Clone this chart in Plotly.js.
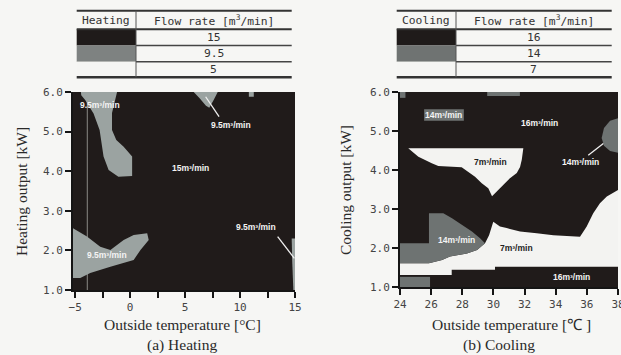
<!DOCTYPE html>
<html><head><meta charset="utf-8">
<script src="https://cdn.plot.ly/plotly-3.0.1.min.js"></script>
<style>html,body{margin:0;padding:0;background:#f6f6f4;}#chart{width:621px;height:355px;}</style>
</head><body><div id="chart"></div>
<script>
// ---------- DATA ----------
const heatFlow = ['15', '9.5', '5'];
const coolFlow = ['16', '14', '7'];
// Heating map: regions of 9.5 m3/min (rest is 15 m3/min)
const hA_x = [-4.48,-1.19,-1.65,-1.65,-1.26,-0.59,0.18,0.18,-1.07,-1.96,-2.42,-2.56,-2.78,-3.33,-4.09,-4.45];
const hA_y = [6.0,6.0,5.47,5.04,4.79,4.62,4.37,3.88,3.86,4.03,4.37,4.62,5.04,5.46,5.80,5.92];
const hB_x = [5.78,7.97,7.6,7.2,6.9,6.3];
const hB_y = [6.0,6.0,5.8,5.6,5.65,5.85];
const hC_x = [10.8,11.25,11.25,10.8];
const hC_y = [6.0,6.0,5.88,5.88];
const hD_x = [-5.2,-3.93,-2.72,-1.80,-0.59,0.32,1.55,1.69,0.94,0.32,-1.80,-3.63,-4.54,-5.2];
const hD_y = [2.56,2.35,2.09,2.01,2.26,2.39,2.43,2.26,2.01,1.76,1.59,1.43,1.30,1.30];
const hE_x = [14.7,15.0,15.0,14.85,14.75];
const hE_y = [2.3,2.3,1.0,1.0,1.7];
const hLab_x = [-2.72, 9.16, 5.5, 11.44, -2.1];
const hLab_y = [5.67, 5.17, 4.07, 2.60, 1.88];
const hLab_t = ['9.5m³/min','9.5m³/min','15m³/min','9.5m³/min','9.5m³/min'];
const hLead1_x = [6.87, 8.09], hLead1_y = [5.88, 5.38];
const hLead2_x = [13.42, 14.94], hLead2_y = [2.35, 1.80];
const hStreak_x = [-3.9, -3.9], hStreak_y = [1.0, 6.0];
// Cooling map: 7 m3/min (white) and 14 m3/min (gray) regions (rest is 16 m3/min)
const cW1_x = [24.53,25.18,26.04,26.46,27.96,28.39,28.82,29.25,29.67,29.91,30.17,30.62,31.06,31.50,31.71,31.82,31.92,31.92];
const cW1_y = [4.56,4.34,4.17,4.10,4.07,3.96,3.83,3.66,3.53,3.33,3.44,3.62,3.79,3.92,4.08,4.26,4.47,4.56];
const cW2_x = [24.0,25.86,26.70,27.21,28.30,28.95,29.46,29.72,29.99,30.42,30.85,31.71,32.78,33.85,35.56,35.99,36.41,36.84,37.28,38.0,38.0,30.10,30.10,27.32,27.32,24.0];
const cW2_y = [1.61,1.61,1.69,1.78,1.86,1.95,2.12,2.33,2.67,2.55,2.51,2.42,2.38,2.33,2.29,2.55,2.89,3.15,3.32,3.49,1.52,1.52,1.44,1.44,1.31,1.31];
const cG1_x = [24.0,25.86,25.86,26.78,27.34,27.98,28.62,29.14,29.46,28.95,28.30,27.21,26.70,25.86,24.0];
const cG1_y = [2.12,2.12,2.89,2.89,2.76,2.59,2.42,2.25,2.12,1.95,1.86,1.78,1.69,1.61,1.61];
const cG2_x = [24.0,25.93,25.93,24.0];
const cG2_y = [1.26,1.26,1.0,1.0];
const cG3_x = [24.0,24.35,24.35,24.0];
const cG3_y = [6.0,6.0,5.85,5.85];
const cG4_x = [25.55,28.1,28.1,25.55];
const cG4_y = [5.56,5.56,5.26,5.26];
const cG5_x = [29.6,31.7,31.7,29.6];
const cG5_y = [6.0,6.0,5.9,5.9];
const cG6_x = [38.0,37.49,37.10,36.95,37.10,37.49,38.0];
const cG6_y = [5.33,5.26,5.08,4.82,4.62,4.49,4.44];
const cLab_x = [26.78, 32.99, 29.78, 35.56, 27.64, 31.5, 35.03];
const cLab_y = [5.41, 5.21, 4.21, 4.21, 2.21, 1.99, 1.26];
const cLab_t = ['14m³/min','16m³/min','7m³/min','14m³/min','14m³/min','7m³/min','16m³/min'];
const cLab_dark = [false,false,true,false,false,true,false];
const cLead_x = [37.06, 36.09], cLead_y = [4.68, 4.38];
const heatXTicks = [-5, 0, 5, 10, 15];
const coolXTicks = [24, 26, 28, 30, 32, 34, 36, 38];
const yTicks = [1, 2, 3, 4, 5, 6];

// ---------- STYLE ----------
const W = 621, H = 355;
const P = px => px / W, Q = py => 1 - py / H;
const DARK = '#201b1a', HGRAY = '#9ba3a1', CGRAY = '#6e7372', WHITE = '#f3f3f1';
const heatSwatch = ['#1f1b1a', '#7e8281', '#f5f5f3'];
const coolSwatch = ['#1f1b1a', '#6f7372', '#f5f5f3'];

function poly(x, y, color, xa, ya) {
  return {type:'scatter', mode:'lines', x:x, y:y, fill:'toself', fillcolor:color,
    line:{width:0, color:color}, hoverinfo:'skip', showlegend:false, xaxis:xa, yaxis:ya};
}
function seg(x, y, color, w, xa, ya) {
  return {type:'scatter', mode:'lines', x:x, y:y, line:{width:w, color:color},
    hoverinfo:'skip', showlegend:false, xaxis:xa, yaxis:ya};
}

const traces = [
  seg(hStreak_x, hStreak_y, '#8a8a86', 1, 'x', 'y'),
  poly(hA_x, hA_y, HGRAY, 'x', 'y'),
  poly(hB_x, hB_y, HGRAY, 'x', 'y'),
  poly(hC_x, hC_y, HGRAY, 'x', 'y'),
  poly(hD_x, hD_y, HGRAY, 'x', 'y'),
  poly(hE_x, hE_y, HGRAY, 'x', 'y'),
  seg(hLead1_x, hLead1_y, '#f0f0f0', 1.3, 'x', 'y'),
  seg(hLead2_x, hLead2_y, '#f0f0f0', 1.3, 'x', 'y'),
  poly(cW2_x, cW2_y, WHITE, 'x2', 'y2'),
  poly(cW1_x, cW1_y, WHITE, 'x2', 'y2'),
  poly(cG1_x, cG1_y, CGRAY, 'x2', 'y2'),
  poly(cG2_x, cG2_y, CGRAY, 'x2', 'y2'),
  poly(cG3_x, cG3_y, CGRAY, 'x2', 'y2'),
  poly(cG4_x, cG4_y, CGRAY, 'x2', 'y2'),
  poly(cG5_x, cG5_y, CGRAY, 'x2', 'y2'),
  poly(cG6_x, cG6_y, CGRAY, 'x2', 'y2'),
  seg(cLead_x, cLead_y, '#f0f0f0', 1.3, 'x2', 'y2')
];

const annotations = [];
const shapes = [];
const C = {xanchor:'center', yanchor:'middle', showarrow:false};
const labFont = {family:'Liberation Sans, Arial, sans-serif', size:8.5, color:'#f4f4f4', weight:'bold'};
hLab_t.forEach((t, i) => annotations.push(Object.assign({xref:'x', yref:'y', x:hLab_x[i], y:hLab_y[i], text:'<b>'+t+'</b>',
  font:labFont}, C)));
cLab_t.forEach((t, i) => annotations.push(Object.assign({xref:'x2', yref:'y2', x:cLab_x[i], y:cLab_y[i], text:'<b>'+t+'</b>',
  font:Object.assign({}, labFont, {color: cLab_dark[i] ? '#222' : '#f4f4f4'})}, C)));

// Tables
const serif = {family:'Liberation Serif, Times New Roman, serif', size:15.5, color:'#2a2a2a'};
const mono = {family:'DejaVu Sans Mono, monospace', size:11.3, color:'#333'};
function paperText(px, py, text, font, extra) {
  annotations.push(Object.assign({xref:'paper', yref:'paper', x:P(px), y:Q(py), text:text, font:font}, C, extra || {}));
}
function table(x0, xd, x1, title, values, swatches) {
  const ly = [10.7, 29.3, 45.5, 61.8, 77.3];
  for (let r = 0; r < 3; r++) {
    shapes.push({type:'rect', xref:'paper', yref:'paper', x0:P(x0), x1:P(xd), y0:Q(ly[r+1]), y1:Q(ly[r+2]),
      fillcolor:swatches[r], line:{width:0}, layer:'below'});
    paperText((xd + x1) / 2, (ly[r+1] + ly[r+2]) / 2, values[r], mono);
  }
  const L = (xa, xb, y, w, c) => shapes.push({type:'line', xref:'paper', yref:'paper', x0:P(xa), x1:P(xb), y0:Q(y), y1:Q(y), line:{width:w, color:c}});
  L(x0, x1, ly[0], 2, '#333');
  L(x0, x1, ly[1], 2, '#333');
  L(xd, x1, ly[2], 1.4, '#444');
  L(xd, x1, ly[3], 1.4, '#444');
  L(x0, x1, ly[4], 2.5, '#333');
  shapes.push({type:'line', xref:'paper', yref:'paper', x0:P(xd), x1:P(xd), y0:Q(ly[0]), y1:Q(ly[4]), line:{width:1, color:'#555'}});
  paperText((x0 + xd) / 2, 20, title, mono);
  paperText((xd + x1) / 2, 20, 'Flow rate [m<sup>3</sup>/min]', mono);
}
table(76.7, 136, 291.7, 'Heating', heatFlow, heatSwatch);
table(396.7, 456, 611.7, 'Cooling', coolFlow, coolSwatch);

// Axis titles and captions
paperText(22, 192, 'Heating output [kW]', serif, {textangle:-90});
paperText(346, 190, 'Cooling output [kW]', serif, {textangle:-90});
paperText(183, 324, 'Outside temperature [°C]', serif);
paperText(511, 324, 'Outside temperature [℃ ]', serif);
paperText(182, 345, '(a) Heating', serif);
paperText(499, 345, '(b) Cooling', serif);

const tickFont = {family:'DejaVu Sans Mono, monospace', size:11, color:'#444'};
const axBase = {showgrid:false, zeroline:false, showline:true, linecolor:'#151515', linewidth:2,
  ticks:'outside', ticklen:6, tickwidth:2, tickcolor:'#151515', tickfont:tickFont, fixedrange:true,
  ticklabeloverflow:'allow'};

const layout = {
  width:W, height:H, margin:{l:0, r:0, t:0, b:0},
  paper_bgcolor:'#f6f6f4', plot_bgcolor:DARK, showlegend:false,
  xaxis:Object.assign({}, axBase, {domain:[P(73), P(295)], range:[-5.2, 15], tickmode:'array', tickvals:heatXTicks,
    minor:{ticks:'outside', dtick:2.5, tick0:-5, ticklen:6, tickwidth:2, tickcolor:'#151515'}, anchor:'y'}),
  yaxis:Object.assign({}, axBase, {domain:[Q(290), Q(92)], range:[1, 6], tickmode:'array', tickvals:yTicks, tickformat:'.1f', anchor:'x'}),
  xaxis2:Object.assign({}, axBase, {domain:[P(400), P(618)], range:[24, 38], tickmode:'array', tickvals:coolXTicks, anchor:'y2'}),
  yaxis2:Object.assign({}, axBase, {domain:[Q(287), Q(92)], range:[1, 6], tickmode:'array', tickvals:yTicks, tickformat:'.1f', anchor:'x2'}),
  annotations:annotations, shapes:shapes
};
Plotly.newPlot('chart', traces, layout, {staticPlot:true, displayModeBar:false});
</script></body></html>
